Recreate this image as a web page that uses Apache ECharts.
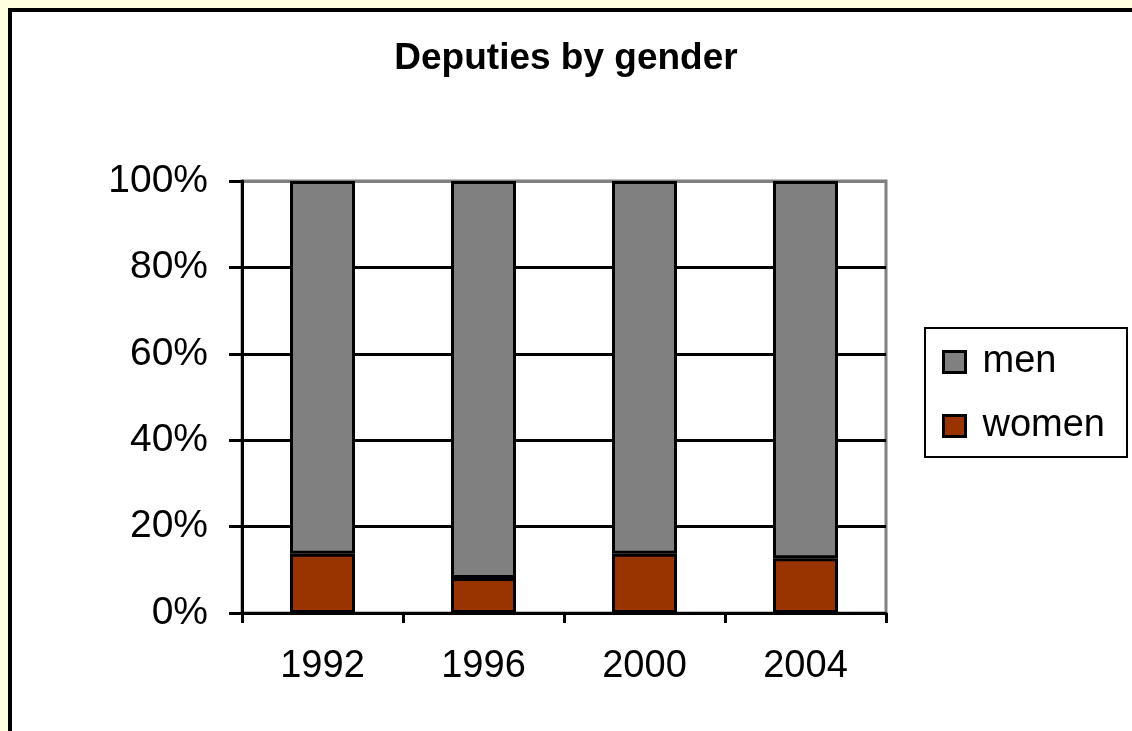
<!DOCTYPE html>
<html>
<head>
<meta charset="utf-8">
<script src="https://cdn.jsdelivr.net/npm/echarts@6/dist/echarts.min.js"></script>
<style>
html, body { margin: 0; padding: 0; background: #FFFFE0; }
#chart { width: 1132px; height: 731px; }
</style>
</head>
<body>
<div id="chart"></div>
<script>
// chart data
var years = ['1992', '1996', '2000', '2004']
var women = [13.7, 8.1, 13.7, 12.7]
var men = [86.3, 91.9, 86.3, 87.3]
var yTicks = [0, 20, 40, 60, 80, 100]

var chart = echarts.init(document.getElementById('chart'))
chart.setOption({
  backgroundColor: '#FFFFE0',
  animation: false,
  textStyle: { fontFamily: 'Liberation Sans, Arial, sans-serif' },
  graphic: [
    {
      type: 'rect',
      z: -10,
      shape: { x: 10, y: 10, width: 1200, height: 800 },
      style: { fill: '#fff', stroke: '#000', lineWidth: 4 }
    }
  ],
  title: {
    text: 'Deputies by gender',
    left: 'center',
    top: 35,
    textStyle: { fontSize: 37, fontWeight: 'bold', color: '#000' }
  },
  legend: {
    orient: 'vertical',
    left: 925,
    top: 328,
    padding: [15, 22, 12, 17],
    itemGap: 26,
    itemWidth: 22,
    itemHeight: 21,
    borderColor: '#000',
    borderWidth: 2,
    backgroundColor: '#fff',
    data: [
      { name: 'men', icon: 'rect' },
      { name: 'women', icon: 'rect' }
    ],
    itemStyle: { borderColor: '#000', borderWidth: 3 },
    textStyle: { fontSize: 38, color: '#000', padding: [0, 0, 0, 12] }
  },
  grid: {
    left: 242,
    right: 246,
    top: 181,
    bottom: 118,
    show: true,
    borderColor: '#808080',
    borderWidth: 3,
    backgroundColor: 'transparent'
  },
  xAxis: {
    type: 'category',
    data: years,
    axisLine: { lineStyle: { color: '#000', width: 3 } },
    axisTick: { show: true, inside: false, length: 10, lineStyle: { color: '#000', width: 3 } },
    axisLabel: { color: '#000', fontSize: 38, margin: 35 },
    splitLine: { show: false }
  },
  yAxis: {
    type: 'value',
    min: yTicks[0],
    max: yTicks[yTicks.length - 1],
    interval: 20,
    axisLine: { show: true, lineStyle: { color: '#000', width: 3 } },
    axisTick: { show: true, inside: false, length: 13, lineStyle: { color: '#000', width: 3 } },
    axisLabel: { color: '#000', fontSize: 39, margin: 34, formatter: '{value}%' },
    splitLine: {
      show: true,
      lineStyle: { color: ['#000', '#000', '#000', '#000', '#000', '#808080'], width: 3 }
    }
  },
  series: [
    {
      name: 'women',
      type: 'bar',
      stack: 'all',
      barWidth: 65,
      data: women,
      itemStyle: { color: '#993300', borderColor: '#000', borderWidth: 3 }
    },
    {
      name: 'men',
      type: 'bar',
      stack: 'all',
      barWidth: 65,
      data: men,
      itemStyle: { color: '#808080', borderColor: '#000', borderWidth: 3 }
    }
  ]
})
</script>
</body>
</html>
